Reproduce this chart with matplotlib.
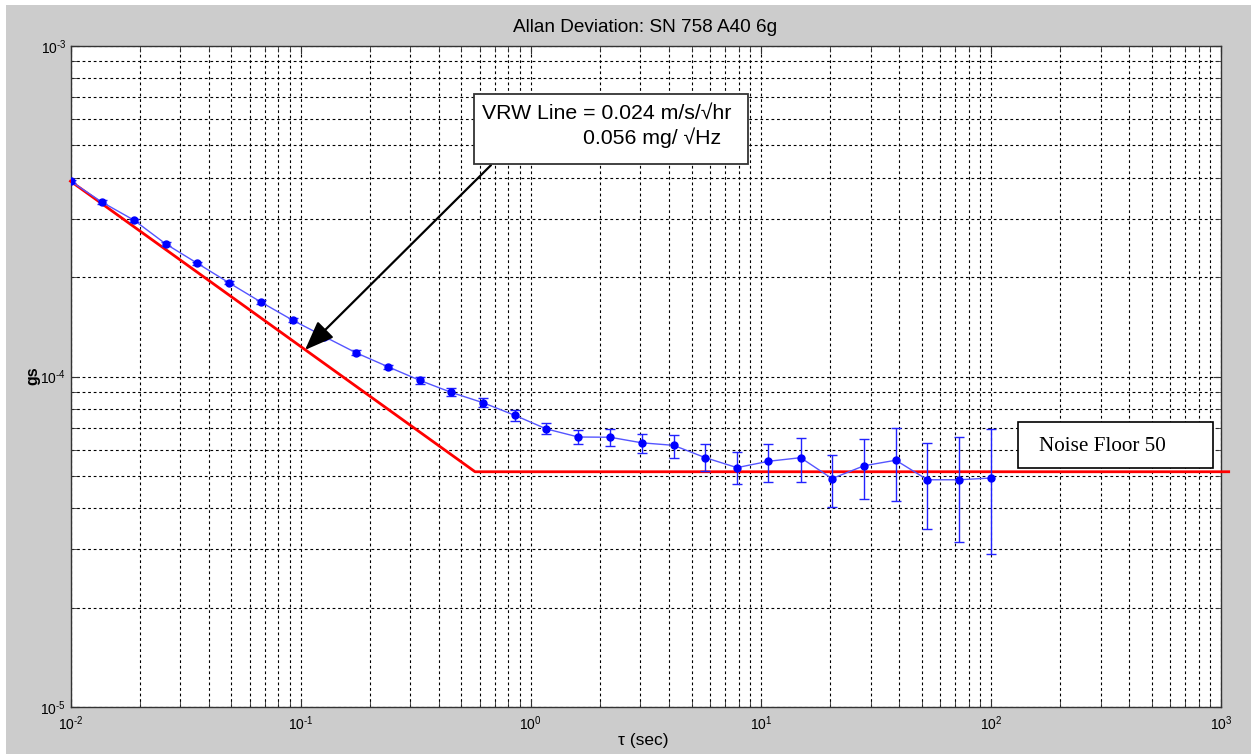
import matplotlib
matplotlib.use('Agg')
import matplotlib.pyplot as plt
from matplotlib.patches import Rectangle
from matplotlib.ticker import LogLocator, NullFormatter, FixedLocator, FixedFormatter

# Allan deviation data
tau = [0.01, 0.0137, 0.0189, 0.0259, 0.0356, 0.0489, 0.0672, 0.0924, 0.127, 0.174,
       0.240, 0.329, 0.452, 0.621, 0.853, 1.17, 1.61, 2.21, 3.04, 4.18,
       5.74, 7.88, 10.8, 14.9, 20.4, 28.1, 38.6, 53.0, 72.8, 100.0]
adev = [3.90e-4, 3.37e-4, 2.97e-4, 2.52e-4, 2.20e-4, 1.92e-4, 1.68e-4, 1.48e-4, 1.32e-4, 1.18e-4,
        1.07e-4, 9.74e-5, 8.95e-5, 8.33e-5, 7.63e-5, 6.94e-5, 6.56e-5, 6.55e-5, 6.30e-5, 6.19e-5,
        5.68e-5, 5.30e-5, 5.54e-5, 5.68e-5, 4.91e-5, 5.37e-5, 5.58e-5, 4.87e-5, 4.87e-5, 4.93e-5]
adev_hi = [3.94e-4, 3.41e-4, 3.00e-4, 2.55e-4, 2.22e-4, 1.94e-4, 1.70e-4, 1.50e-4, 1.34e-4, 1.20e-4,
           1.085e-4, 9.96e-5, 9.20e-5, 8.58e-5, 7.92e-5, 7.21e-5, 6.89e-5, 6.92e-5, 6.71e-5, 6.67e-5,
           6.23e-5, 5.90e-5, 6.23e-5, 6.53e-5, 5.78e-5, 6.48e-5, 6.99e-5, 6.28e-5, 6.57e-5, 6.92e-5]
adev_lo = [3.86e-4, 3.33e-4, 2.94e-4, 2.49e-4, 2.18e-4, 1.90e-4, 1.66e-4, 1.46e-4, 1.30e-4, 1.16e-4,
           1.055e-4, 9.52e-5, 8.71e-5, 8.09e-5, 7.35e-5, 6.68e-5, 6.25e-5, 6.16e-5, 5.86e-5, 5.67e-5,
           5.19e-5, 4.72e-5, 4.80e-5, 4.80e-5, 4.02e-5, 4.25e-5, 4.19e-5, 3.46e-5, 3.16e-5, 2.91e-5]

# VRW line (slope -1/2) meeting the noise floor
fit_tau = [0.01, 0.573, 1080.0]
fit_val = [3.90e-4, 5.15e-5, 5.15e-5]

xticks = [1e-2, 1e-1, 1e0, 1e1, 1e2, 1e3]
xlabels = [r'$10^{\text{-}2}$', r'$10^{\text{-}1}$', '$10^{0}$', '$10^{1}$', '$10^{2}$', '$10^{3}$']
yticks = [1e-5, 1e-4, 1e-3]
ylabels = [r'$10^{\text{-}5}$', r'$10^{\text{-}4}$', r'$10^{\text{-}3}$']

plt.rcParams['font.family'] = ['Liberation Sans', 'DejaVu Sans']
plt.rcParams['mathtext.fontset'] = 'custom'
plt.rcParams['mathtext.rm'] = 'Liberation Sans'
plt.rcParams['mathtext.it'] = 'Liberation Sans:italic'
plt.rcParams['mathtext.bf'] = 'Liberation Sans:bold'

W, H = 1251, 754
fig = plt.figure(figsize=(W / 100, H / 100), dpi=100, facecolor='white')
fig.add_artist(Rectangle((6 / W, 0), 1, 1 - 5 / H, transform=fig.transFigure,
                         facecolor='#cccccc', edgecolor='none', zorder=-10))

ax = fig.add_axes([70.5 / W, 1 - 707 / H, (1221 - 70.5) / W, (707 - 46) / H])
ax.set_facecolor('white')
ax.set_xscale('log')
ax.set_yscale('log')
ax.set_xlim(1e-2, 1e3)
ax.set_ylim(1e-5, 1e-3)

ax.xaxis.set_major_locator(FixedLocator(xticks))
ax.xaxis.set_major_formatter(FixedFormatter(xlabels))
ax.yaxis.set_major_locator(FixedLocator(yticks))
ax.yaxis.set_major_formatter(FixedFormatter(ylabels))
ax.xaxis.set_minor_locator(LogLocator(base=10, subs=range(2, 10), numticks=20))
ax.yaxis.set_minor_locator(LogLocator(base=10, subs=range(2, 10), numticks=20))
ax.xaxis.set_minor_formatter(NullFormatter())
ax.yaxis.set_minor_formatter(NullFormatter())

ax.grid(True, which='both', color='black', linestyle=(0, (2.5, 2.5)), linewidth=0.8)
ax.tick_params(which='both', direction='in', top=True, right=True, labelsize=10, color='#333333')
ax.tick_params(which='major', length=6, width=0.8)
ax.tick_params(which='minor', length=4, width=0.6)
ax.tick_params(axis='x', pad=5)
ax.tick_params(axis='y', pad=3)
for s in ax.spines.values():
    s.set_color('#333333')
    s.set_linewidth(1.0)

ax.plot(fit_tau, fit_val, color='red', linewidth=2.0, zorder=3, clip_on=False)

yerr = [[a - l for a, l in zip(adev, adev_lo)], [h - a for a, h in zip(adev, adev_hi)]]
ax.errorbar(tau, adev, yerr=yerr, color='#5555ff', linewidth=1.0, elinewidth=1.0,
            ecolor='#2222ff', capsize=3.5, marker='o', markersize=5, markerfacecolor='blue',
            markeredgecolor='blue', zorder=4)

# annotation boxes
def fx(px):
    return px / W

def fy(py):
    return 1 - py / H

fig.text(fx(645), fy(28), 'Allan Deviation: SN 758 A40 6g', fontsize=13.7, ha='center', va='center')
fig.text(fx(643), fy(740), 'τ (sec)', fontsize=12.5, ha='center', va='center')
fig.text(fx(33), fy(376), 'gs', fontsize=11.5, fontweight='bold', rotation=90, ha='center', va='center')

fig.add_artist(Rectangle((fx(474), fy(164)), fx(748) - fx(474), fy(94) - fy(164),
                         transform=fig.transFigure, facecolor='white', edgecolor='#333333',
                         linewidth=1.3, zorder=5))
fig.text(fx(482), fy(113), 'VRW Line = 0.024 m/s/√hr', fontsize=15.3, va='center', ha='left', zorder=6)
fig.text(fx(583), fy(138), '0.056 mg/ √Hz', fontsize=15.3, va='center', ha='left', zorder=6)

fig.add_artist(Rectangle((fx(1018), fy(468)), fx(1213) - fx(1018), fy(422) - fy(468),
                         transform=fig.transFigure, facecolor='white', edgecolor='black',
                         linewidth=1.2, zorder=5))
fig.text(fx(1039), fy(446), 'Noise Floor 50', fontsize=15.2, va='center', ha='left',
         family='Liberation Serif', zorder=6)

ax.annotate('', xy=(0.1045, 1.203e-4), xytext=(0.672, 4.36e-4),
            arrowprops=dict(arrowstyle='-|>,head_length=0.9,head_width=0.35', mutation_scale=20,
                            lw=1.6, color='black', shrinkA=0, shrinkB=0), zorder=6)

fig.savefig('out.png', dpi=100, facecolor=fig.get_facecolor())
